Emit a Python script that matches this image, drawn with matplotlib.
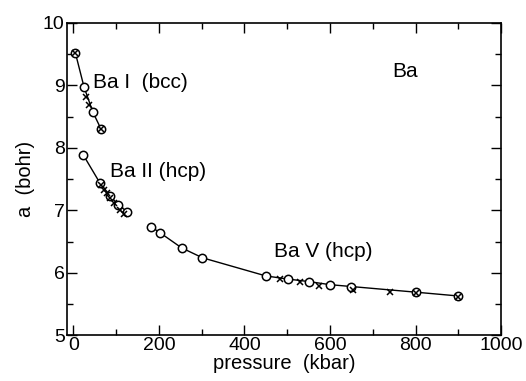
import matplotlib.pyplot as plt

plt.rcParams['font.family'] = ['Liberation Sans', 'DejaVu Sans']

# Ba I (bcc) calculated
p_bcc = [5, 25, 46, 65]
a_bcc = [9.52, 8.98, 8.57, 8.30]
# Ba II (hcp) calculated
p_hcp2 = [24, 63, 87, 104, 126]
a_hcp2 = [7.88, 7.43, 7.23, 7.09, 6.98]
# Ba V (hcp) calculated
p_hcp5 = [181, 203, 253, 302, 450, 501, 550, 600, 650, 800, 898]
a_hcp5 = [6.74, 6.64, 6.40, 6.24, 5.95, 5.90, 5.86, 5.81, 5.78, 5.69, 5.63]

# experiment (crosses)
p_exp = [5, 30, 38, 65, 66, 72, 78, 85, 95, 110, 118,
         482, 529, 575, 654, 740, 800, 900]
a_exp = [9.52, 8.82, 8.68, 8.30, 7.40, 7.33, 7.28, 7.20, 7.12, 7.00, 6.94,
         5.90, 5.86, 5.79, 5.73, 5.70, 5.67, 5.62]

fig = plt.figure(figsize=(5.26, 3.81), dpi=100)
ax = fig.add_axes([0.127, 0.12, 0.826, 0.82])

for p, a in [(p_bcc, a_bcc), (p_hcp2, a_hcp2), (p_hcp5, a_hcp5)]:
    ax.plot(p, a, color='black', lw=1.0, marker='o', ms=6,
            mfc='white', mec='black', mew=1.1)
ax.plot(p_exp, a_exp, ls='none', marker='x', ms=4.5, color='black', mew=1.1)

ax.text(47, 9.04, 'Ba I  (bcc)', fontsize=15, va='center')
ax.text(86, 7.62, 'Ba II (hcp)', fontsize=15, va='center')
ax.text(470, 6.34, 'Ba V (hcp)', fontsize=15, va='center')
ax.text(745, 9.22, 'Ba', fontsize=15, va='center')

ax.set_xlim(-15, 1000)
ax.set_ylim(5, 10)
ax.set_xticks([0, 200, 400, 600, 800, 1000])
ax.set_xticks([100, 300, 500, 700, 900], minor=True)
ax.set_yticks([5, 6, 7, 8, 9, 10])
ax.set_yticks([5.5, 6.5, 7.5, 8.5, 9.5], minor=True)
ax.tick_params(which='both', direction='in', top=True, right=True,
               labelsize=14, width=1.0, pad=1.5)
ax.tick_params(which='major', length=7)
ax.tick_params(which='minor', length=4)
for s in ax.spines.values():
    s.set_linewidth(1.2)

ax.set_xlabel('pressure  (kbar)', fontsize=14.5, labelpad=0)
ax.set_ylabel('a  (bohr)', fontsize=14.5, labelpad=6)

plt.savefig('out.png', dpi=100)
